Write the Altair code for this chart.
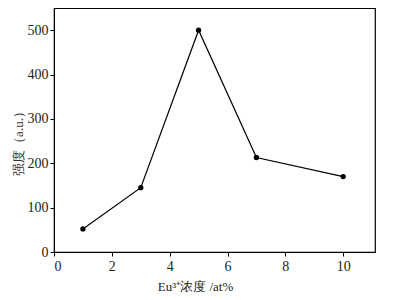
import altair as alt
import pandas as pd

conc = [1, 3, 5, 7, 10]
intensity = [52, 145, 500, 213, 170]

df = pd.DataFrame({"x": conc, "y": intensity})

x_ticks = list(range(0, 12))
y_ticks = list(range(0, 551, 50))

font = "Liberation Serif"

base = alt.Chart(df)

line = base.mark_line(color="black", strokeWidth=1.2).encode(
    x=alt.X("x:Q",
            scale=alt.Scale(domain=[0, 11.1], nice=False, zero=False),
            axis=alt.Axis(values=x_ticks,
                          labelExpr="datum.value % 2 == 0 ? datum.label : ''",
                          title="Eu³⁺浓度 /at%", grid=False,
                          tickSize=4, tickColor="black", domainColor="black",
                          labelFont=font, labelFontSize=14, labelColor="#222",
                          labelPadding=3,
                          titleFont=font, titleFontSize=13, titleFontWeight="normal",
                          titleColor="#222", titlePadding=7, titleX=141)),
    y=alt.Y("y:Q",
            scale=alt.Scale(domain=[0, 550], nice=False),
            axis=alt.Axis(values=y_ticks,
                          labelExpr="datum.value % 100 == 0 ? datum.label : ''",
                          title="强度（a.u.）", grid=False,
                          tickSize=4, tickColor="black", domainColor="black",
                          labelFont=font, labelFontSize=14, labelColor="#222",
                          labelPadding=2,
                          titleFont=font, titleFontSize=13, titleFontWeight="normal",
                          titleColor="#3b3030", titlePadding=2, titleY=132)),
)

points = base.mark_point(filled=True, color="black", size=28, opacity=1).encode(
    x="x:Q", y="y:Q"
)

chart = (line + points).properties(
    width=321, height=244,
    autosize=alt.AutoSizeParams(type="none"),
    padding={"left": 46, "top": 0, "right": 18, "bottom": 40},
).configure(background="white").configure_view(stroke="black", strokeWidth=1.2)

chart.save("out.html", embed_options={"renderer": "svg", "actions": False})
